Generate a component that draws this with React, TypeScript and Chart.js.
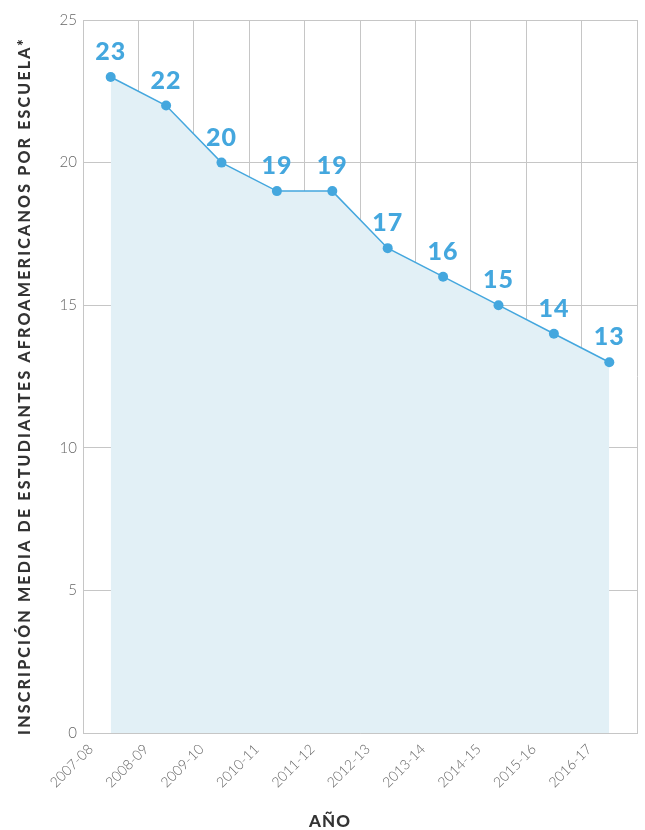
import React, { useEffect, useRef } from "react";
import { Chart, registerables } from "chart.js";

Chart.register(...registerables);

const categories = ["2007-08", "2008-09", "2009-10", "2010-11", "2011-12", "2012-13", "2013-14", "2014-15", "2015-16", "2016-17"];
const values = [23, 22, 20, 19, 19, 17, 16, 15, 14, 13];
const yTitle = "INSCRIPCIÓN MEDIA DE ESTUDIANTES AFROAMERICANOS POR ESCUELA*";
const xTitle = "AÑO";

const BLUE = "#44a7de";
const FILL = "#e2f0f6";
const GRID = "#c6c6c6";

const labelPlugin = {
  id: "valueLabels",
  afterDatasetsDraw(chart: any) {
    const ctx = chart.ctx;
    const meta = chart.getDatasetMeta(0);
    ctx.save();
    ctx.fillStyle = BLUE;
    ctx.font = "900 25px Lato, 'Open Sans', sans-serif";
    (ctx as any).letterSpacing = "1px";
    ctx.textAlign = "center";
    ctx.textBaseline = "alphabetic";
    meta.data.forEach((pt: any, i: number) => {
      ctx.fillText(String(values[i]), pt.x, pt.y - 17);
    });
    ctx.restore();
  },
};

const titlePlugin = {
  id: "axisTitles",
  afterDraw(chart: any) {
    const ctx = chart.ctx;
    const area = chart.chartArea;
    ctx.save();
    ctx.fillStyle = "#333";
    ctx.font = "900 16px Lato, 'Open Sans', sans-serif";
    (ctx as any).letterSpacing = "2.2px";
    ctx.textAlign = "center";
    ctx.textBaseline = "middle";
    ctx.translate(25, 386);
    ctx.rotate(-Math.PI / 2);
    ctx.fillText(yTitle, 0, 0);
    ctx.restore();
    ctx.save();
    ctx.fillStyle = "#333";
    ctx.font = "900 17px Lato, 'Open Sans', sans-serif";
    (ctx as any).letterSpacing = "1px";
    ctx.textAlign = "center";
    ctx.textBaseline = "middle";
    ctx.fillText(xTitle, (area.left + area.right) / 2 - 30, 822);
    ctx.restore();
  },
};

export default function App() {
  const ref = useRef<HTMLCanvasElement>(null);
  useEffect(() => {
    document.body.style.margin = "0";
    const chart = new Chart(ref.current!, {
      type: "line",
      data: {
        labels: categories,
        datasets: [
          {
            data: values,
            borderColor: BLUE,
            borderWidth: 1.5,
            backgroundColor: FILL,
            fill: "origin",
            pointRadius: 5,
            pointBackgroundColor: BLUE,
            pointBorderColor: BLUE,
            pointBorderWidth: 0,
            tension: 0,
          },
        ],
      },
      options: {
        animation: false,
        responsive: false,
        devicePixelRatio: 1,
        layout: { padding: { left: 0, right: 8, top: 20, bottom: 0 } },
        plugins: { legend: { display: false }, tooltip: { enabled: false } },
        scales: {
          x: {
            offset: true,
            grid: { offset: true, color: GRID, lineWidth: 1, drawTicks: false },
            border: { color: GRID, width: 1 },
            ticks: {
              maxRotation: 45,
              minRotation: 45,
              padding: 8,
              labelOffset: -20,
              color: "#666",
              font: { family: "Lato, 'Open Sans', sans-serif", size: 14, weight: "300" as any },
            },
            afterFit(scale: any) {
              scale.height = 97;
            },
          },
          y: {
            min: 0,
            max: 25,
            ticks: {
              stepSize: 5,
              padding: 6,
              color: "#666",
              font: { family: "Lato, 'Open Sans', sans-serif", size: 15, weight: "300" as any },
            },
            grid: { color: GRID, lineWidth: 1, drawTicks: false },
            border: { color: GRID, width: 1 },
            afterFit(scale: any) {
              scale.width = 83;
            },
          },
        },
      },
      plugins: [labelPlugin, titlePlugin],
    });
    return () => chart.destroy();
  }, []);
  return <canvas ref={ref} width={645} height={830} style={{ display: "block" }} />;
}
